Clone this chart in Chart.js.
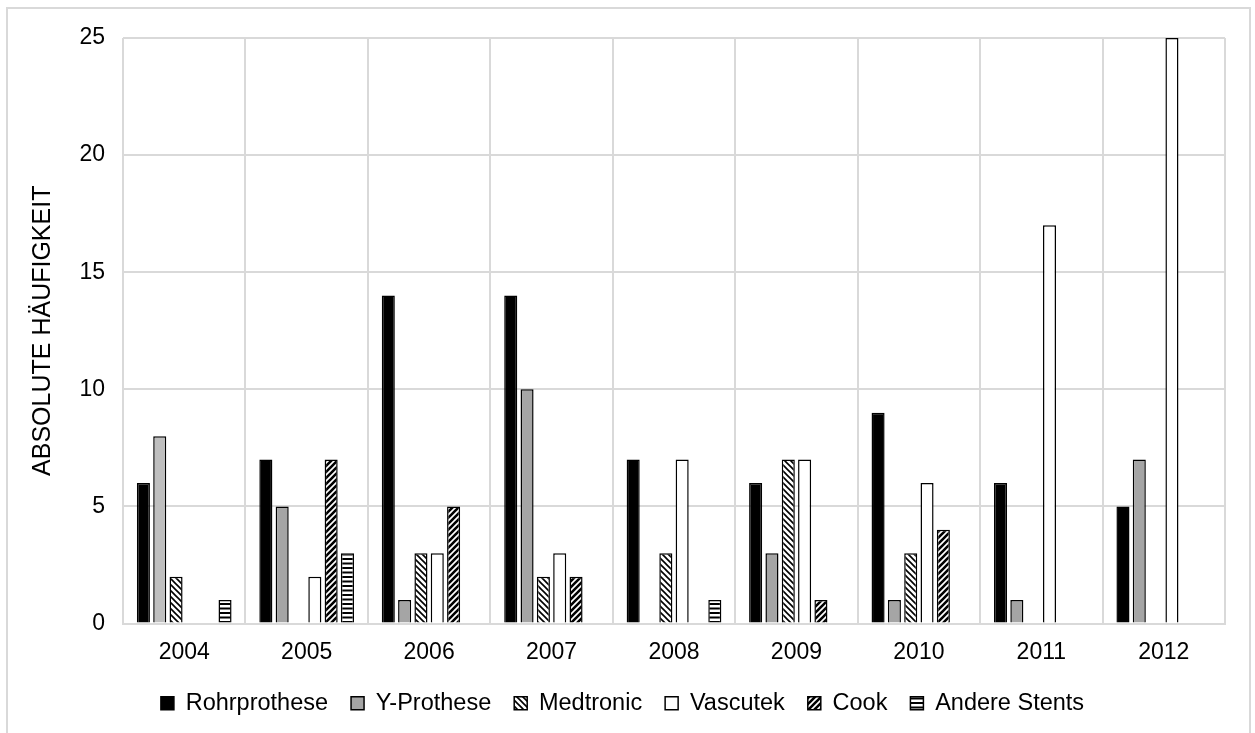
<!DOCTYPE html>
<html>
<head>
<meta charset="utf-8">
<script src="https://cdn.jsdelivr.net/npm/chart.js@4/dist/chart.umd.min.js"></script>
<style>
  html, body { margin: 0; padding: 0; background: #fff; }
  #wrap { position: relative; width: 1255px; height: 733px; overflow: hidden; }
  #frame { position: absolute; left: 6px; top: 7px; width: 1245px; height: 740px; border: 2px solid #d9d9d9; box-sizing: border-box; pointer-events: none; }
  canvas { position: absolute; left: 0; top: 0; }
</style>
</head>
<body>
<div id="wrap">
  <canvas id="chart" width="1255" height="733"></canvas>
  <div id="frame"></div>
</div>
<script>
// Jahre und Anzahl je Prothesentyp
const years = ['2004', '2005', '2006', '2007', '2008', '2009', '2010', '2011', '2012'];
const rohrprothese = [6, 7, 14, 14, 7, 6, 9, 6, 5];
const yProthese = [8, 5, 1, 10, 0, 3, 1, 1, 7];
const medtronic = [2, 0, 3, 2, 3, 7, 3, 0, 0];
const vascutek = [0, 2, 3, 3, 7, 7, 6, 17, 25];
const cook = [0, 7, 5, 2, 0, 1, 4, 0, 0];
const andereStents = [1, 3, 0, 0, 1, 0, 0, 0, 0];
const yTicks = [0, 5, 10, 15, 20, 25];

const FONT = "'Liberation Sans', Arial, sans-serif";

// Schraffuren als Canvas-Muster
function makePattern(kind) {
  const c = document.createElement('canvas');
  const ctx = c.getContext('2d');
  if (kind === 'horizontal') {
    c.width = 8; c.height = 9;
    ctx.fillStyle = '#fff';
    ctx.fillRect(0, 0, 8, 9);
    ctx.fillStyle = '#000';
    ctx.fillRect(0, 0, 8, 2);
    ctx.fillRect(0, 4.5, 8, 2);
  } else {
    const s = 6;
    c.width = s; c.height = s;
    ctx.fillStyle = '#fff';
    ctx.fillRect(0, 0, s, s);
    ctx.strokeStyle = '#000';
    ctx.lineWidth = kind === 'up' ? 2.6 : 1.6;
    ctx.beginPath();
    for (let k = -s; k <= s; k += s) {
      if (kind === 'down') {
        ctx.moveTo(k - 1, -1); ctx.lineTo(k + s + 1, s + 1);
      } else {
        ctx.moveTo(k - 1, s + 1); ctx.lineTo(k + s + 1, -1);
      }
    }
    ctx.stroke();
  }
  return document.getElementById('chart').getContext('2d').createPattern(c, 'repeat');
}

const medtronicFill = makePattern('down');
const cookFill = makePattern('up');
const andereFill = makePattern('horizontal');

const yColors = years.map((y, i) => (i === 0 ? '#bfbfbf' : '#a5a5a5'));

const common = { borderColor: '#000', borderWidth: 1.5 };

new Chart(document.getElementById('chart'), {
  type: 'bar',
  data: {
    labels: years,
    datasets: [
      { label: 'Rohrprothese', data: rohrprothese, backgroundColor: '#000', ...common },
      { label: 'Y-Prothese', data: yProthese, backgroundColor: yColors, ...common },
      { label: 'Medtronic', data: medtronic, backgroundColor: medtronicFill, ...common },
      { label: 'Vascutek', data: vascutek, backgroundColor: '#fff', ...common },
      { label: 'Cook', data: cook, backgroundColor: cookFill, ...common },
      { label: 'Andere Stents', data: andereStents, backgroundColor: andereFill, ...common }
    ]
  },
  options: {
    responsive: false,
    devicePixelRatio: 1,
    animation: false,
    categoryPercentage: 0.8,
    barPercentage: 0.8,
    layout: { padding: { left: 20, right: 30, top: 38, bottom: 8 } },
    plugins: {
      tooltip: { enabled: false },
      legend: {
        position: 'bottom',
        labels: {
          color: '#000',
          font: { family: FONT, size: 23.5 },
          boxWidth: 13,
          boxHeight: 13,
          padding: 23,
          generateLabels(chart) {
            return chart.data.datasets.map((ds, i) => ({
              text: ds.label,
              fillStyle: i === 1 ? '#a5a5a5' : ds.backgroundColor,
              strokeStyle: '#000',
              lineWidth: 1.5,
              hidden: false,
              datasetIndex: i,
              fontColor: '#000'
            }));
          }
        }
      }
    },
    scales: {
      x: {
        grid: { color: '#d9d9d9', lineWidth: 2, drawTicks: false, offset: true },
        border: { color: '#d9d9d9', width: 2 },
        ticks: { color: '#000', font: { family: FONT, size: 23 }, padding: 15, maxRotation: 0 },
        afterFit(axis) { axis.height = 45; }
      },
      y: {
        min: 0,
        max: 25,
        afterBuildTicks(axis) { axis.ticks = yTicks.map(v => ({ value: v })); },
        grid: { color: '#d9d9d9', lineWidth: 2, drawTicks: false },
        border: { display: false },
        ticks: { color: '#000', font: { family: FONT, size: 23 }, padding: 18 },
        title: {
          display: true,
          text: 'ABSOLUTE HÄUFIGKEIT',
          color: '#000',
          font: { family: FONT, size: 25 },
          padding: { top: 8, bottom: 0 }
        },
        afterFit(axis) { axis.width = 103; }
      }
    }
  }
});
</script>
</body>
</html>
